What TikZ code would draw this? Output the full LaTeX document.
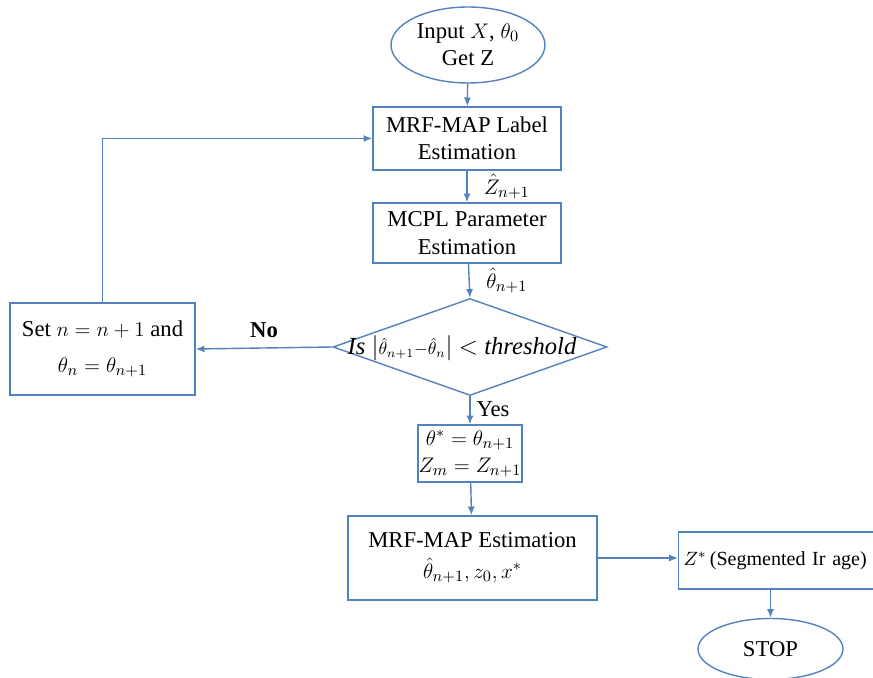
\documentclass[tikz,border=0pt]{standalone}
\usepackage{fontspec}
\setmainfont{Liberation Serif}
\usetikzlibrary{shapes.geometric,arrows.meta}
\definecolor{flowblue}{RGB}{84,130,190}
\begin{document}
\begin{tikzpicture}[x=0.02cm,y=-0.02cm,
        every node/.style={font=\fontsize{12.9}{15.5}\selectfont},
        box/.style={draw=flowblue,line width=0.8pt,rectangle,align=center,inner sep=0pt},
        oval/.style={draw=flowblue,line width=0.8pt,ellipse,align=center,inner sep=0pt},
        flow/.style={draw=flowblue,line width=0.8pt,-{Latex[length=5pt,width=4pt]}}]
    \useasboundingbox (0,0) rectangle (873,678);
    \clip (0,0) rectangle (873,678);
    % start and loop body
    \node[oval,minimum width=3.08cm,minimum height=1.52cm] (start) at (468,45) {Input $X$, $\theta_0$\\Get Z};
    \node[box,minimum width=3.76cm,minimum height=1.26cm] (label) at (467,138.5) {MRF-MAP Label\\Estimation};
    \node[box,minimum width=3.76cm,minimum height=1.2cm] (param) at (467,233) {MCPL Parameter\\Estimation};
    \node[draw=flowblue,line width=0.8pt,diamond,inner sep=0pt,minimum width=5.48cm,minimum height=1.94cm] (test) at (470,347) {};
    \node[font=\fontsize{14}{16}\selectfont] (testtext) at (462,348) {\itshape Is $\Bigl|{\scriptstyle\hat\theta_{n+1}-\hat\theta_n}\Bigr|$ $<$ threshold};
    \node[box,minimum width=3.7cm,minimum height=1.84cm] (update) at (102.5,349) {Set $n=n+1$ and\\[5pt]$\theta_n=\theta_{n+1}$};
    % after convergence
    \node[box,minimum width=2.08cm,minimum height=1.14cm] (final) at (470,453.5) {$\theta^*=\theta_{n+1}$\\$Z_m=Z_{n+1}$};
    \node[box,minimum width=4.98cm,minimum height=1.68cm] (mapest) at (472.5,558) {MRF-MAP Estimation\\[2pt]$\hat\theta_{n+1},z_0,x^*$};
    \node[box,anchor=west,minimum width=4.4cm,minimum height=1.14cm,text width=4.2cm,align=left,inner xsep=0.08cm,font=\fontsize{11.4}{13}\selectfont] (result) at (678,560.5) {$Z^*$\,(Segmented Ir age)};
    \node[oval,minimum width=2.9cm,minimum height=1.22cm] (stop) at (770.5,649) {STOP};
    % connectors
    \draw[flow] (start) -- (label);
    \draw[flow] (label) -- node[right,xshift=6pt] (zlab) {$\hat Z_{n+1}$} (param);
    \draw[flow] (param) -- node[right,xshift=6pt] (thlab) {$\hat\theta_{n+1}$} (test.north);
    \draw[flow] (test.west) -- node[above,yshift=2pt,font=\fontsize{12.9}{15.5}\selectfont\bfseries] (nolab) {No} (update.east);
    \draw[flow] (update.north) |- (label.west);
    \draw[flow] (test.south) -- node[right,pos=0.45] (yeslab) {Yes} (final.north);
    \draw[flow] (final) -- (mapest);
    \draw[flow] (mapest.east) -- (mapest.east -| result.west);
    \draw[flow] (result.south -| stop.north) -- (stop.north);
\end{tikzpicture}
\end{document}
